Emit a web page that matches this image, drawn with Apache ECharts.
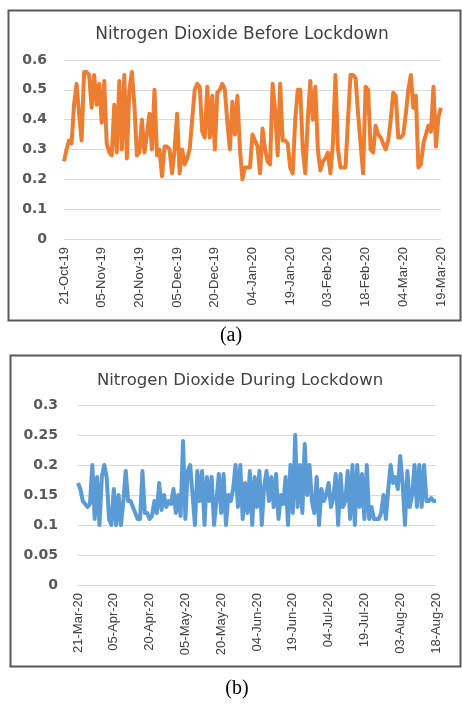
<!DOCTYPE html>
<html><head><meta charset="utf-8">
<script src="https://cdn.jsdelivr.net/npm/echarts@6/dist/echarts.min.js"></script>
<style>html,body{margin:0;padding:0;background:#fff}#c{width:462px;height:705px}</style>
</head><body><div id="c"></div>
<script>
const titleA = "Nitrogen Dioxide Before Lockdown";
const titleB = "Nitrogen Dioxide During Lockdown";
const startA = "2019-10-21";
const startB = "2020-03-21";
const no2Before = [
0.26,0.30,0.33,0.32,0.45,0.52,0.42,0.33,0.56,0.56,
0.55,0.44,0.55,0.45,0.52,0.39,0.53,0.32,0.29,0.28,
0.45,0.29,0.53,0.30,0.55,0.27,0.50,0.56,0.45,0.28,
0.29,0.40,0.29,0.35,0.42,0.30,0.50,0.28,0.30,0.21,
0.31,0.31,0.30,0.22,0.30,0.42,0.22,0.30,0.25,0.27,
0.30,0.40,0.50,0.52,0.51,0.36,0.34,0.51,0.34,0.48,
0.30,0.49,0.50,0.52,0.50,0.39,0.30,0.46,0.35,0.48,
0.30,0.20,0.24,0.24,0.24,0.35,0.33,0.31,0.22,0.37,
0.30,0.26,0.25,0.52,0.43,0.28,0.52,0.33,0.33,0.32,
0.24,0.22,0.40,0.50,0.50,0.30,0.22,0.40,0.53,0.40,
0.51,0.30,0.23,0.26,0.27,0.29,0.22,0.32,0.55,0.30,
0.24,0.24,0.24,0.40,0.55,0.55,0.54,0.42,0.32,0.22,
0.51,0.50,0.30,0.29,0.38,0.35,0.34,0.32,0.30,0.33,
0.40,0.49,0.48,0.34,0.34,0.35,0.42,0.50,0.55,0.44,
0.48,0.24,0.25,0.32,0.35,0.38,0.36,0.51,0.31,0.41,
0.44];
const no2During = [
0.17,0.16,0.14,0.135,0.13,0.135,0.2,0.11,0.18,0.1,
0.18,0.2,0.18,0.11,0.1,0.16,0.1,0.15,0.1,0.14,0.19,0.14,0.14,0.13,
0.12,0.11,0.11,0.19,0.12,0.12,0.11,0.115,0.14,0.12,0.17,0.125,0.15,0.13,0.14,
0.135,0.16,0.12,0.15,0.115,0.24,0.11,0.19,0.2,0.15,0.1,0.19,0.14,0.19,0.1,0.18,0.14,0.18,0.1,0.14,0.185,0.12,0.185,0.1,0.15,0.14,0.16,
0.2,0.13,0.2,0.11,0.17,0.12,0.19,0.1,0.18,0.13,0.19,0.1,0.165,0.19,0.14,0.18,0.13,0.185,0.11,0.15,0.135,0.18,0.1,0.2,0.12,0.25,0.13,0.2,0.12,0.235,0.15,0.2,0.14,0.12,0.18,0.1,0.16,0.14,0.15,
0.17,0.13,0.145,0.185,0.1,0.185,0.13,0.14,0.19,0.11,0.2,0.1,0.2,0.13,0.185,0.11,0.2,0.11,0.13,0.11,0.11,0.11,0.12,
0.15,0.11,0.16,0.2,0.17,0.18,0.16,0.215,0.17,0.1,0.19,0.13,0.15,0.2,0.13,0.2,0.13,0.2,0.14,0.14,0.145,0.14,0.14];
const captionA = "(a)";
const captionB = "(b)";

const MON = ["Jan","Feb","Mar","Apr","May","Jun","Jul","Aug","Sep","Oct","Nov","Dec"];
function dates(start, n){
  const out=[]; const d0=new Date(start+"T00:00:00Z");
  for(let i=0;i<n;i++){
    const d=new Date(d0.getTime()+i*86400000);
    const dd=String(d.getUTCDate()).padStart(2,"0");
    out.push(dd+"-"+MON[d.getUTCMonth()]+"-"+String(d.getUTCFullYear()).slice(2));
  }
  return out;
}
const catsA = dates(startA, no2Before.length);
const catsB = dates(startB, no2During.length);

const chart = echarts.init(document.getElementById('c'), null, {renderer:'canvas'});
const axLab = {color:'#595959', fontSize:14, fontFamily:'DejaVu Sans', fontWeight:'bold'};
const xLab = {rotate:90, interval:14, color:'#404040', fontSize:13, fontFamily:'Liberation Sans Narrow, Liberation Sans', margin:8};
chart.setOption({
  backgroundColor:'#fff',
  animation:false,
  title:[
    {text:titleA, left:237, top:21, textAlign:'center', textStyle:{fontSize:17, fontWeight:'normal', fontFamily:'DejaVu Sans', color:'#404040'}},
    {text:titleB, left:235, top:367, textAlign:'center', textStyle:{fontSize:16.5, fontWeight:'normal', fontFamily:'DejaVu Sans', color:'#404040'}}
  ],
  grid:[
    {left:64, width:377, top:60, height:179},
    {left:78, width:358, top:405, height:180}
  ],
  xAxis:[
    {gridIndex:0, type:'category', data:catsA, boundaryGap:false, axisLine:{show:false}, axisTick:{show:false}, axisLabel:xLab},
    {gridIndex:1, type:'category', data:catsB, boundaryGap:false, axisLine:{show:false}, axisTick:{show:false}, axisLabel:xLab}
  ],
  yAxis:[
    {gridIndex:0, type:'value', min:0, max:0.6, interval:0.1, axisLabel:Object.assign({margin:17}, axLab), splitLine:{lineStyle:{color:'#d9d9d9'}}},
    {gridIndex:1, type:'value', min:0, max:0.3, interval:0.05, axisLabel:Object.assign({margin:20}, axLab), splitLine:{lineStyle:{color:'#d9d9d9'}}}
  ],
  series:[
    {type:'line', xAxisIndex:0, yAxisIndex:0, data:no2Before, showSymbol:false, lineStyle:{color:'#ED7D31', width:4, join:'round'}},
    {type:'line', xAxisIndex:1, yAxisIndex:1, data:no2During, showSymbol:false, lineStyle:{color:'#5B9BD5', width:4, join:'round'}}
  ],
  graphic:[
    {type:'rect', shape:{x:8.5, y:10.5, width:452, height:310}, style:{fill:null, stroke:'#595959', lineWidth:2}},
    {type:'rect', shape:{x:10.5, y:355.5, width:450, height:311}, style:{fill:null, stroke:'#595959', lineWidth:2}},
    {type:'text', x:231, y:336, style:{text:captionA, font:'20px "Liberation Serif"', fill:'#000', textAlign:'center', textVerticalAlign:'middle'}},
    {type:'text', x:237, y:689, style:{text:captionB, font:'20px "Liberation Serif"', fill:'#000', textAlign:'center', textVerticalAlign:'middle'}}
  ]
});
</script></body></html>
